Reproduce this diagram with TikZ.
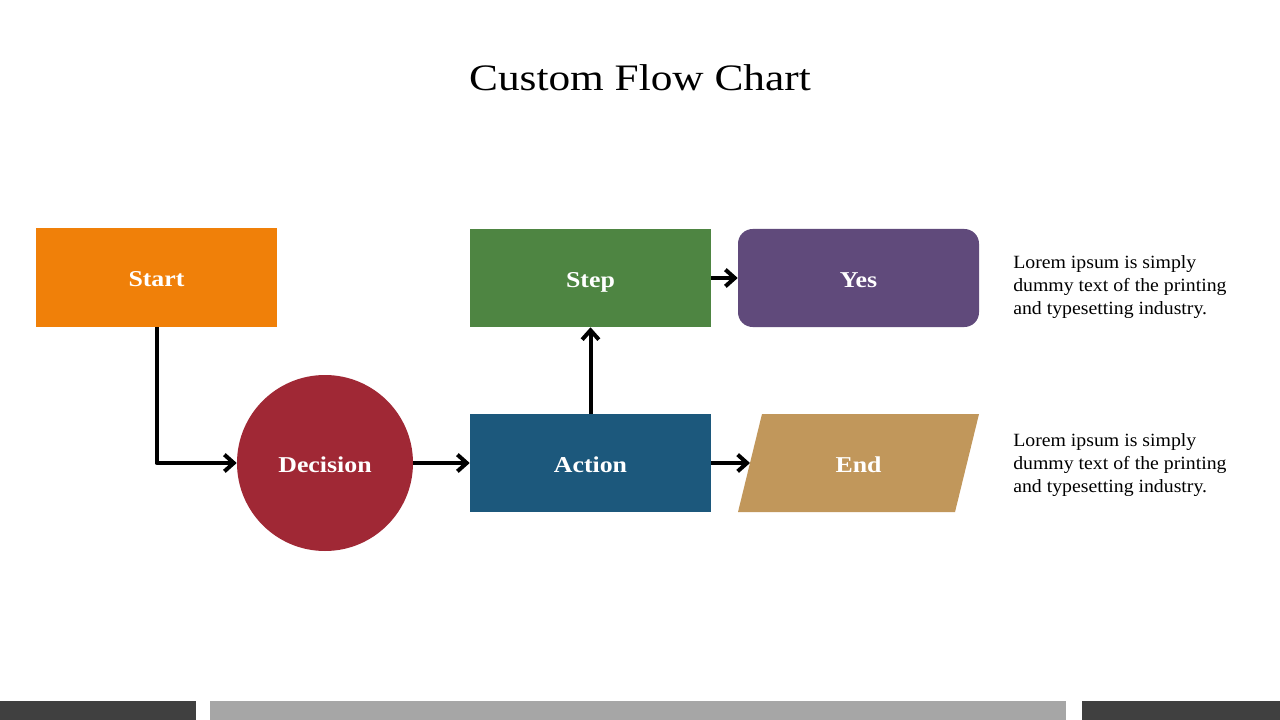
\documentclass[tikz,border=0pt]{standalone}
\usepackage{fontspec}
\setmainfont{Liberation Serif}
\newfontfamily\titlefont[FakeStretch=1.16]{Liberation Serif}
\newfontfamily\labelfont[FakeStretch=1.14]{Liberation Serif}
\newfontfamily\lorfont[FakeStretch=1.06]{Liberation Serif}
\usetikzlibrary{arrows.meta,calc}
\definecolor{cstart}{HTML}{F08009}
\definecolor{cstep}{HTML}{4E8542}
\definecolor{cyes}{HTML}{604A7B}
\definecolor{caction}{HTML}{1C587C}
\definecolor{cend}{HTML}{C1975B}
\definecolor{cdec}{HTML}{A02835}
\definecolor{cdark}{HTML}{404040}
\definecolor{cgray}{HTML}{A6A6A6}
\newlength{\unitlen}
\setlength{\unitlen}{0.75pt}
\tikzset{
  lbl/.style={text=white, font=\labelfont\fontsize{17}{20}\selectfont\bfseries, text height=13.5pt, text depth=0pt},
  box/.style={lbl, inner sep=0pt, minimum width=241\unitlen, minimum height=98\unitlen},
  conn/.style={line width=3pt, -{Straight Barb[length=7pt,width=12.5pt,line width=3pt]}, line join=round},
  lorem/.style={anchor=north west, align=left, inner sep=0pt, font=\lorfont\fontsize{14}{17.25}\selectfont},
}
\begin{document}
\begin{tikzpicture}[x=0.75pt,y=-0.75pt]
\useasboundingbox (0,0) rectangle (1280,720);
\fill[white] (0,0) rectangle (1280,720);
% title
\node[font=\titlefont\fontsize{28}{32}\selectfont] (title) at (640,78) {Custom Flow Chart};
% nodes
\node[box, fill=cstart] (start) at (156.5,277.5) {Start};
\node[box, fill=cstep] (step) at (590.5,278) {Step};
\node[box, fill=cyes, rounded corners=11pt] (yes) at (858.5,278) {Yes};
\node[box, fill=caction] (action) at (590.5,463) {Action};
\node[lbl, circle, fill=cdec, minimum size=176\unitlen, inner sep=0pt] (dec) at (325,463) {Decision};
\fill[cend] (762,414) -- (979,414) -- (955,512) -- (738,512) -- cycle;
\node[lbl] (end) at (858.5,463) {End};
\coordinate (endin) at (750,463);
% connectors
\draw[conn] (start.south) |- (dec.west);
\draw[conn] (dec.east) -- (action.west);
\draw[conn] (action.north) -- (step.south);
\draw[conn] (step.east) -- (yes.west);
\draw[conn] (action.east) -- (endin);
% texts
\node[lorem] (t1) at (1013,255) {Lorem ipsum is simply\\dummy text of the printing\\and typesetting industry.};
\node[lorem] (t2) at (1013,433) {Lorem ipsum is simply\\dummy text of the printing\\and typesetting industry.};
% bottom bars
\fill[cdark] (0,701) rectangle (196,720);
\fill[cgray] (210,701) rectangle (1066,720);
\fill[cdark] (1082,701) rectangle (1280,720);
\end{tikzpicture}
\end{document}
